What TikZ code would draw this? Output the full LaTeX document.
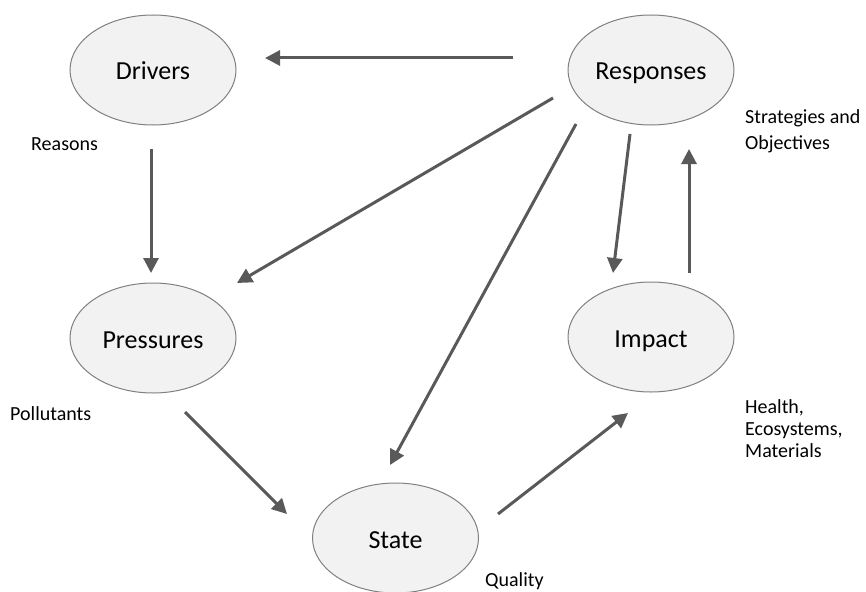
\documentclass[tikz,border=0pt]{standalone}
\usepackage{fontspec}
\setmainfont{Carlito}
\usetikzlibrary{shapes.geometric,arrows.meta}
\definecolor{ellfill}{HTML}{F2F2F2}
\definecolor{ellline}{HTML}{808080}
\definecolor{arrcol}{HTML}{595959}
\begin{document}
\begin{tikzpicture}[x=1pt,y=-1pt,
  bubble/.style={ellipse,draw=ellline,line width=1pt,fill=ellfill,minimum width=166pt,minimum height=110pt,inner sep=0pt,text height=20pt,text depth=0pt,font=\fontsize{26}{31}\selectfont},
  note/.style={anchor=base west,inner sep=0pt,align=left,font=\fontsize{20}{25}\selectfont},
  link/.style={draw=arrcol,line width=3pt,-{Triangle[length=15pt,width=15pt]}}]
\useasboundingbox (0,0) rectangle (866,591);
\node[bubble] (drivers) at (153,70) {Drivers};
\node[bubble] (responses) at (651,70) {Responses};
\node[bubble] (pressures) at (153,338) {Pressures};
\node[bubble] (impact) at (651,337) {Impact};
\node[bubble] (state) at (395.5,538) {State};
\node[note] (reasons) at (31,150) {Reasons};
% base anchor of a multi-line node is the baseline of its last line
\node[note] (strategies) at (745,149) {Strategies and\\Objectives};
\node[note] (pollutants) at (10,420) {Pollutants};
\node[note,font=\fontsize{20}{22}\selectfont] (health) at (745,457) {Health,\\Ecosystems,\\Materials};
\node[note] (quality) at (485,586) {Quality};
\coordinate (rd1) at (513,58); \coordinate (rd2) at (265,58);
\coordinate (dp1) at (151,149); \coordinate (dp2) at (151,273);
\coordinate (rp1) at (553,98); \coordinate (rp2) at (237,283);
\coordinate (rs1) at (576,124); \coordinate (rs2) at (390,465);
\coordinate (ri1) at (630,134); \coordinate (ri2) at (613,273);
\coordinate (ir1) at (689,273); \coordinate (ir2) at (689,149);
\coordinate (ps1) at (185,412); \coordinate (ps2) at (287,514);
\coordinate (si1) at (498,514); \coordinate (si2) at (628,413);
\draw[link] (rd1) -- (rd2);
\draw[link] (dp1) -- (dp2);
\draw[link] (rp1) -- (rp2);
\draw[link] (rs1) -- (rs2);
\draw[link] (ri1) -- (ri2);
\draw[link] (ir1) -- (ir2);
\draw[link] (ps1) -- (ps2);
\draw[link] (si1) -- (si2);
\end{tikzpicture}
\end{document}
